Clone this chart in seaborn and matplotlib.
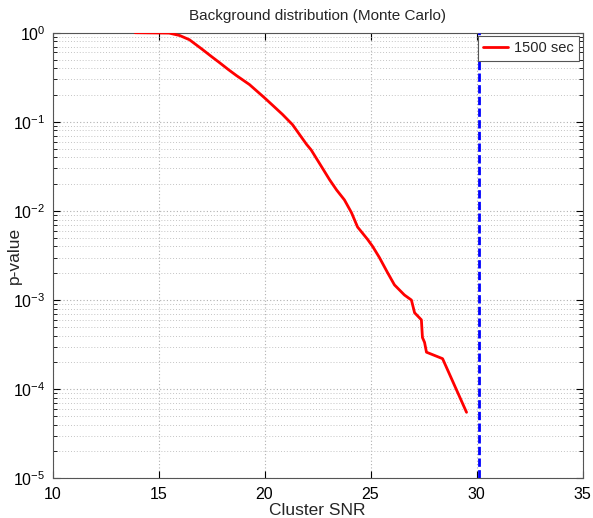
import matplotlib
matplotlib.use("Agg")
import matplotlib.pyplot as plt
import seaborn as sns
import pandas as pd
from matplotlib.ticker import LogLocator, NullFormatter, MultipleLocator

snr = [13.9, 15.5, 16.0, 16.46, 17.08, 17.5, 17.88, 18.3, 18.68, 19.29, 20.0,
       20.4, 20.85, 21.32, 21.98, 22.2, 22.6, 23.07, 23.4, 23.77, 24.1, 24.39,
       24.86, 25.1, 25.42, 25.8, 26.13, 26.6, 26.93, 27.08, 27.4, 27.45, 27.55,
       27.64, 28.4, 29.53]
pval = [1.0, 0.99, 0.93, 0.834, 0.646, 0.54, 0.461, 0.385, 0.33, 0.262, 0.186,
        0.152, 0.121, 0.093, 0.056, 0.0484, 0.034, 0.0224, 0.0172, 0.0133,
        0.0096, 0.0066, 0.0048, 0.0040, 0.0030, 0.00204, 0.00148, 0.00114,
        0.00100, 0.00072, 0.00060, 0.00038, 0.000335, 0.00026, 0.00022, 5.5e-5]
series_label = "1500 sec"
threshold_snr = 30.1

sns.set_style("ticks")
plt.rcParams['font.family'] = ['Liberation Sans', 'DejaVu Sans']
plt.rcParams['mathtext.fontset'] = 'custom'
plt.rcParams['mathtext.rm'] = 'Liberation Sans'

df = pd.DataFrame({"snr": snr, "p": pval})

fig = plt.figure(figsize=(5.93, 5.18), dpi=100)
ax = fig.add_axes([52.5/593, (518-478.3)/518, 530/593, 445.6/518])

ax.set_yscale("log")
ax.set_xlim(10, 35)
ax.set_ylim(1e-5, 1)

ax.grid(True, which="major", axis="both", color="#b0b0b0", linestyle=(0, (1, 2)), linewidth=0.8)
ax.grid(True, which="minor", axis="y", color="#c4c4c4", linestyle=(0, (1, 2)), linewidth=0.7)

sns.lineplot(data=df, x="snr", y="p", color="red", linewidth=2, sort=False,
             estimator=None, label=series_label, ax=ax, zorder=3)
ax.axvline(threshold_snr, color="blue", linestyle=(0, (3, 1.2)), linewidth=2, zorder=3)

ax.xaxis.set_major_locator(MultipleLocator(5))
ax.yaxis.set_major_locator(LogLocator(base=10, numticks=10))
ax.yaxis.set_minor_locator(LogLocator(base=10, subs=range(2, 10), numticks=20))
ax.yaxis.set_minor_formatter(NullFormatter())
ax.tick_params(which="both", direction="in", top=True, right=True, labelsize=11.5, colors="black")
ax.tick_params(axis="x", which="major", pad=6)
ax.tick_params(axis="y", which="major", pad=5)
ax.tick_params(which="major", length=5)
ax.tick_params(which="minor", length=3)
for s in ax.spines.values():
    s.set_color("#555555")
    s.set_linewidth(0.8)

ax.set_title("Background distribution (Monte Carlo)", fontsize=11, pad=9)
ax.set_xlabel("Cluster SNR", fontsize=12.5, labelpad=1)
ax.set_ylabel("p-value", fontsize=12.5)
ax.yaxis.set_label_coords((22 - 52.5) / 530, 0.5)

leg = ax.legend(loc="upper right", fontsize=10.5, frameon=True, fancybox=False,
                edgecolor="#555555", framealpha=1, borderaxespad=0.25,
                handlelength=1.7, handletextpad=0.4, borderpad=0.35)
leg.get_frame().set_linewidth(0.8)

fig.savefig("out.png", dpi=100)
